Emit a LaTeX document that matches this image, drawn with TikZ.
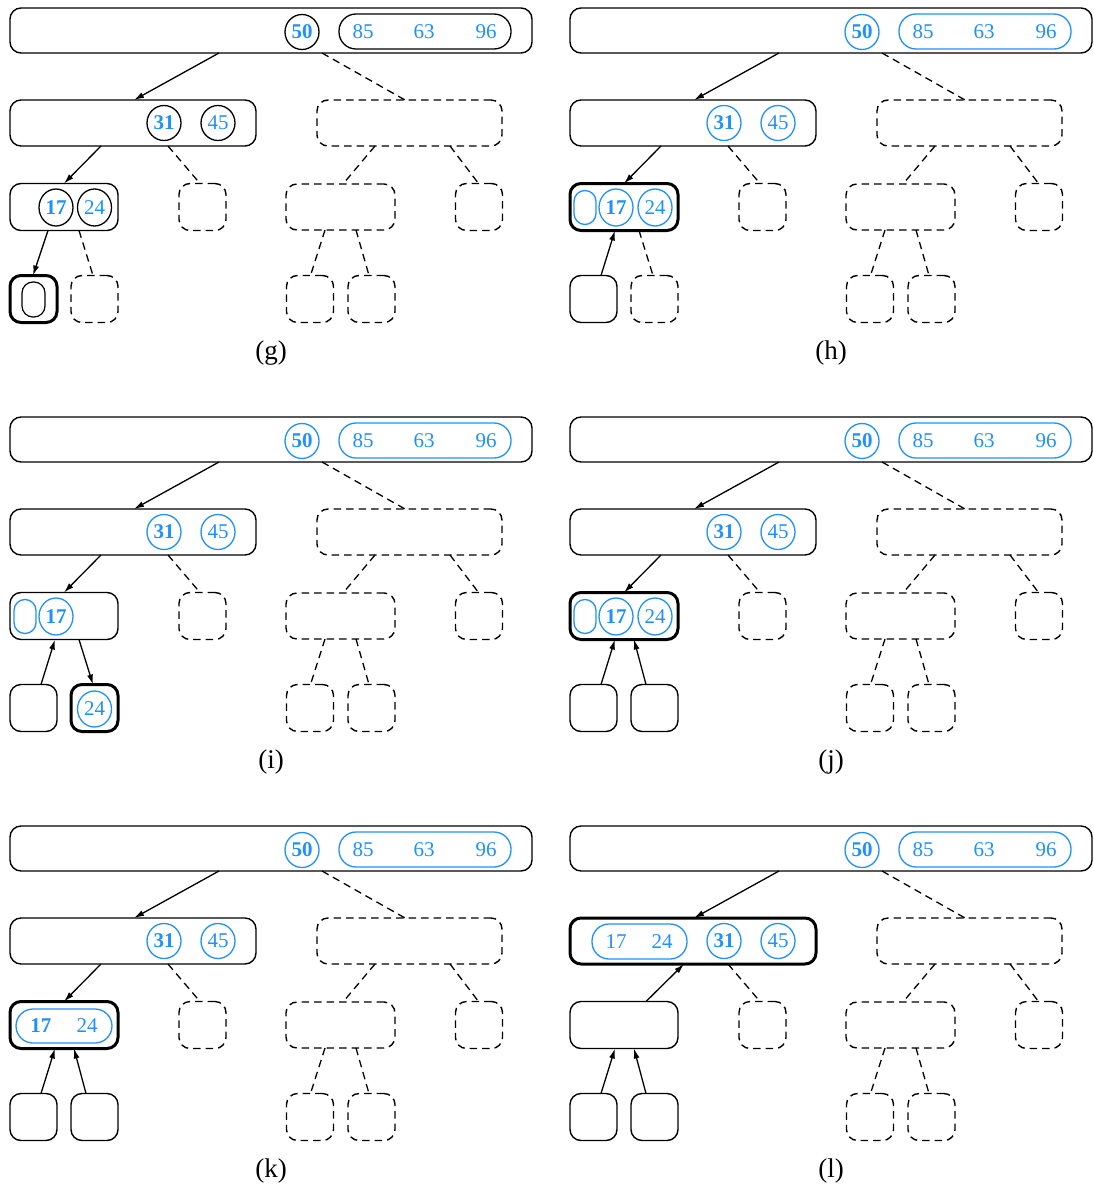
\documentclass[tikz,border=0pt]{standalone}
\usepackage{fontspec}
\setmainfont{Liberation Serif}
\usetikzlibrary{shapes.geometric,arrows.meta}
\definecolor{nb}{RGB}{30,144,255}
\newcommand{\numfont}{\fontsize{21}{24}\selectfont}
\tikzset{
  x=1pt, y=-1pt,
  every node/.style={inner sep=0pt, outer sep=0pt},
  box/.style={draw, rounded corners=11pt, line width=1.4pt},
  dbox/.style={box, dash pattern=on 7.5pt off 5pt},
  heavy/.style={line width=3pt},
  sq/.style={minimum width=47pt, minimum height=47pt},
  wide/.style={minimum width=108pt, minimum height=47pt},
  circ/.style={ellipse, draw, line width=1.3pt, minimum width=34pt, minimum height=35pt, text=nb, font=\numfont},
  bcirc/.style={circ, font=\numfont\bfseries},
  pill/.style={draw, line width=1.3pt, rounded corners=17pt, minimum height=35pt},
  spill/.style={draw=nb, line width=1.3pt, rounded corners=11pt, minimum width=22pt, minimum height=34pt},
  numtxt/.style={text=nb, font=\numfont},
  bnumtxt/.style={text=nb, font=\numfont\bfseries},
  arr/.style={line width=1.3pt, -{Latex[length=10pt,width=6pt]}},
  dl/.style={line width=1.3pt, dash pattern=on 7.5pt off 5pt},
  lab/.style={font=\fontsize{27}{30}\selectfont},
}
% #1 prefix, #2 ring colour, #3 extra style of second-level left box
\newcommand{\common}[3]{%
  \node[box, minimum width=522pt, minimum height=45pt] (#1r) at (271,30.5) {};
  \node[bcirc, draw=#2] (#1r50) at (302,32) {50};
  \node[pill, draw=#2, minimum width=172pt] (#1rp) at (425,31.5) {};
  \node[numtxt] (#1n85) at (363,31.5) {85};
  \node[numtxt] (#1n63) at (424,31.5) {63};
  \node[numtxt] (#1n96) at (486,31.5) {96};
  \node[box, minimum width=246pt, minimum height=46pt, #3] (#1L) at (133,123) {};
  \node[bcirc, draw=#2] (#1L31) at (164,123) {31};
  \node[circ, draw=#2] (#1L45) at (218,123) {45};
  \node[dbox, minimum width=185pt, minimum height=46pt] (#1R) at (409.5,123) {};
  \node[dbox, sq] (#1B) at (202.5,207) {};
  \node[dbox, minimum width=109pt, minimum height=46pt] (#1C) at (340.5,207) {};
  \node[dbox, sq] (#1D) at (479,207) {};
  \node[dbox, sq] (#1c1) at (310,299) {};
  \node[dbox, sq] (#1c2) at (371.5,299) {};
  \draw[arr] ([xshift=209pt]#1r.south west) -- ([xshift=124pt]#1L.north west);
  \draw[dl] ([xshift=312pt]#1r.south west) -- ([xshift=88pt]#1R.north west);
  \draw[dl] ([xshift=158pt]#1L.south west) -- ([xshift=21pt]#1B.north west);
  \draw[dl] ([xshift=58pt]#1R.south west) -- ([xshift=57pt]#1C.north west);
  \draw[dl] ([xshift=133pt]#1R.south west) -- ([xshift=23pt]#1D.north west);
  \draw[dl] ([xshift=39pt]#1C.south west) -- ([xshift=24pt]#1c1.north west);
  \draw[dl] ([xshift=70pt]#1C.south west) -- ([xshift=21pt]#1c2.north west);
}
\begin{document}
\begin{tikzpicture}
\useasboundingbox (0,0) rectangle (1093,1188);
% (g)
\begin{scope}
  \common{g}{black}{}
  \node[box, wide] (gA) at (64,207) {};
  \node[bcirc, draw=black, minimum height=37pt] (gA17) at (56,207.5) {17};
  \node[circ, draw=black, minimum height=37pt] (gA24) at (94.5,207.5) {24};
  \node[box, heavy, sq] (ga1) at (33.5,299) {};
  \node[draw, line width=1.2pt, rounded corners=11pt, minimum width=23pt, minimum height=35pt] (ga1p) at (33.5,299.5) {};
  \node[dbox, sq] (ga2) at (94.5,299) {};
  \draw[arr] ([xshift=91pt]gL.south west) -- ([xshift=54pt]gA.north west);
  \draw[arr] ([xshift=38pt]gA.south west) -- ([xshift=23pt]ga1.north west);
  \draw[dl] ([xshift=69pt]gA.south west) -- ([xshift=22pt]ga2.north west);
  \node[lab] (glab) at (271,353) {(g)};
\end{scope}
% (h)
\begin{scope}[shift={(560,0)}]
  \common{h}{nb}{}
  \node[box, heavy, wide] (hA) at (64,207) {};
  \node[spill] (hAp) at (25,207.5) {};
  \node[bcirc, draw=nb, minimum height=37pt] (hA17) at (56,207.5) {17};
  \node[circ, draw=nb, minimum height=37pt] (hA24) at (95,207.5) {24};
  \node[box, sq] (ha1) at (33.5,299) {};
  \node[dbox, sq] (ha2) at (94.5,299) {};
  \draw[arr] ([xshift=91pt]hL.south west) -- ([xshift=54pt]hA.north west);
  \draw[arr] ([xshift=31pt]ha1.north west) -- ([xshift=45pt]hA.south west);
  \draw[dl] ([xshift=69pt]hA.south west) -- ([xshift=22pt]ha2.north west);
  \node[lab] (hlab) at (271,353) {(h)};
\end{scope}
% (i)
\begin{scope}[shift={(0,409)}]
  \common{i}{nb}{}
  \node[box, wide] (iA) at (64,207) {};
  \node[spill] (iAp) at (25,207.5) {};
  \node[bcirc, draw=nb, minimum height=37pt] (iA17) at (56,207.5) {17};
  \node[box, sq] (ia1) at (33.5,299) {};
  \node[box, heavy, sq] (ia2) at (94.5,299) {};
  \node[circ, draw=nb, minimum height=36pt] (ia24) at (94.5,300) {24};
  \draw[arr] ([xshift=91pt]iL.south west) -- ([xshift=54pt]iA.north west);
  \draw[arr] ([xshift=31pt]ia1.north west) -- ([xshift=45pt]iA.south west);
  \draw[arr] ([xshift=69pt]iA.south west) -- ([xshift=22pt]ia2.north west);
  \node[lab] (ilab) at (271,353) {(i)};
\end{scope}
% (j)
\begin{scope}[shift={(560,409)}]
  \common{j}{nb}{}
  \node[box, heavy, wide] (jA) at (64,207) {};
  \node[spill] (jAp) at (25,207.5) {};
  \node[bcirc, draw=nb, minimum height=37pt] (jA17) at (56,207.5) {17};
  \node[circ, draw=nb, minimum height=37pt] (jA24) at (95,207.5) {24};
  \node[box, sq] (ja1) at (33.5,299) {};
  \node[box, sq] (ja2) at (94.5,299) {};
  \draw[arr] ([xshift=91pt]jL.south west) -- ([xshift=54pt]jA.north west);
  \draw[arr] ([xshift=31pt]ja1.north west) -- ([xshift=45pt]jA.south west);
  \draw[arr] ([xshift=15pt]ja2.north west) -- ([xshift=64pt]jA.south west);
  \node[lab] (jlab) at (271,353) {(j)};
\end{scope}
% (k)
\begin{scope}[shift={(0,818)}]
  \common{k}{nb}{}
  \node[box, heavy, wide] (kA) at (64,207) {};
  \node[pill, draw=nb, minimum width=96pt, minimum height=34pt] (kAp) at (64,208) {};
  \node[bnumtxt] (kA17) at (41,208) {17};
  \node[numtxt] (kA24) at (87,208) {24};
  \node[box, sq] (ka1) at (33.5,299) {};
  \node[box, sq] (ka2) at (94.5,299) {};
  \draw[arr] ([xshift=91pt]kL.south west) -- ([xshift=54pt]kA.north west);
  \draw[arr] ([xshift=31pt]ka1.north west) -- ([xshift=45pt]kA.south west);
  \draw[arr] ([xshift=15pt]ka2.north west) -- ([xshift=64pt]kA.south west);
  \node[lab] (klab) at (271,353) {(k)};
\end{scope}
% (l)
\begin{scope}[shift={(560,818)}]
  \common{l}{nb}{heavy}
  \node[pill, draw=nb, minimum width=95pt, minimum height=35pt] (lLp) at (79.5,123.5) {};
  \node[numtxt] (lL17) at (56,123.5) {17};
  \node[numtxt] (lL24) at (102,123.5) {24};
  \node[box, wide] (lA) at (64,207) {};
  \node[box, sq] (la1) at (33.5,299) {};
  \node[box, sq] (la2) at (94.5,299) {};
  \draw[arr] ([xshift=76pt]lA.north west) -- ([xshift=114pt]lL.south west);
  \draw[arr] ([xshift=31pt]la1.north west) -- ([xshift=45pt]lA.south west);
  \draw[arr] ([xshift=15pt]la2.north west) -- ([xshift=64pt]lA.south west);
  \node[lab] (llab) at (271,353) {(l)};
\end{scope}
\end{tikzpicture}
\end{document}
